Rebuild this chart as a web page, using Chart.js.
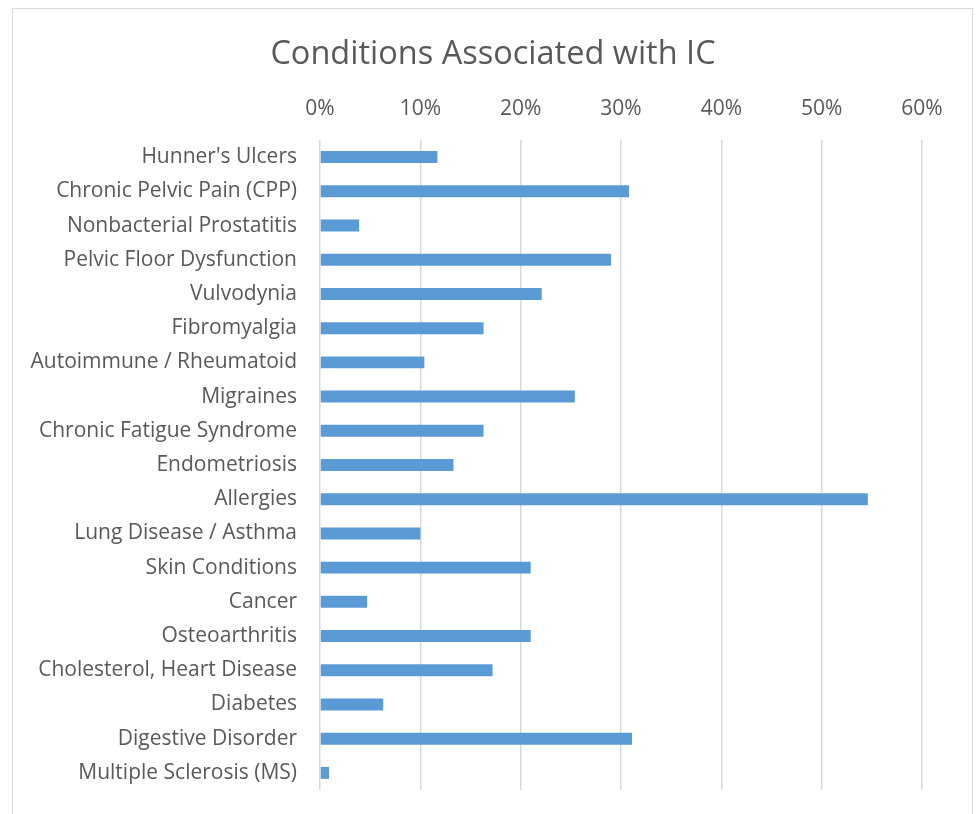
<!DOCTYPE html>
<html><head><meta charset="utf-8">
<script src="https://cdn.jsdelivr.net/npm/chart.js@4/dist/chart.umd.min.js"></script>
<style>
html,body{margin:0;padding:0;background:#fff;overflow:hidden;width:978px;height:814px}
#frame{position:absolute;left:12px;top:8px;width:961px;height:840px;border:1px solid #d9d9d9;box-sizing:border-box}
#wrap{position:absolute;left:0;top:0;width:978px;height:814px}
</style></head>
<body><div id="frame"></div><div id="wrap"><canvas id="c" width="978" height="814"></canvas></div>
<script>
const chartTitle = "Conditions Associated with IC";
const categories = [
  "Hunner's Ulcers",
  "Chronic Pelvic Pain (CPP)",
  "Nonbacterial Prostatitis",
  "Pelvic Floor Dysfunction",
  "Vulvodynia",
  "Fibromyalgia",
  "Autoimmune / Rheumatoid",
  "Migraines",
  "Chronic Fatigue Syndrome",
  "Endometriosis",
  "Allergies",
  "Lung Disease / Asthma",
  "Skin Conditions",
  "Cancer",
  "Osteoarthritis",
  "Cholesterol, Heart Disease",
  "Diabetes",
  "Digestive Disorder",
  "Multiple Sclerosis (MS)"
];
const shares = [0.117, 0.308, 0.039, 0.290, 0.221, 0.163, 0.104, 0.254, 0.163, 0.133, 0.546, 0.100, 0.210, 0.047, 0.210, 0.172, 0.063, 0.311, 0.009];
const xTickValues = [0, 0.1, 0.2, 0.3, 0.4, 0.5, 0.6];

const TEXT = '#595959';
const FONT = "'Open Sans', sans-serif";

const titlePlugin = {
  id: 'titleDraw',
  afterDraw(chart) {
    const ctx = chart.ctx;
    ctx.save();
    ctx.fillStyle = TEXT;
    ctx.font = "32.5px " + FONT;
    ctx.textAlign = 'center';
    ctx.textBaseline = 'alphabetic';
    ctx.fillText(chartTitle, 493, 64);
    ctx.restore();
  }
};

new Chart(document.getElementById('c'), {
  type: 'bar',
  data: {
    labels: categories,
    datasets: [{
      data: shares,
      backgroundColor: '#5B9BD5',
      borderWidth: 0,
      barPercentage: 0.35,
      categoryPercentage: 1.0
    }]
  },
  options: {
    indexAxis: 'y',
    responsive: false,
    animation: false,
    devicePixelRatio: 1,
    layout: { padding: { left: 0, right: 56, top: 0, bottom: 24 } },
    plugins: { legend: { display: false }, tooltip: { enabled: false }, title: { display: false } },
    scales: {
      x: {
        position: 'top',
        min: 0, max: 0.6,
        afterFit(s) { s.height = 140; s.paddingLeft = 0; s.paddingRight = 0; },
        afterBuildTicks(s) { s.ticks = xTickValues.map(v => ({ value: v })); },
        grid: { color: '#d9d9d9', lineWidth: 1.5, drawTicks: false },
        border: { display: false },
        ticks: {
          color: TEXT, font: { family: FONT, size: 21 }, padding: 18,
          callback: v => Math.round(v * 100) + '%'
        }
      },
      y: {
        afterFit(s) { s.width = 320; s.paddingTop = 0; s.paddingBottom = 0; },
        grid: { display: false, drawTicks: false },
        border: { display: false },
        ticks: { color: TEXT, font: { family: FONT, size: 21 }, padding: 23, autoSkip: false }
      }
    }
  },
  plugins: [titlePlugin]
});
</script>
</body></html>
